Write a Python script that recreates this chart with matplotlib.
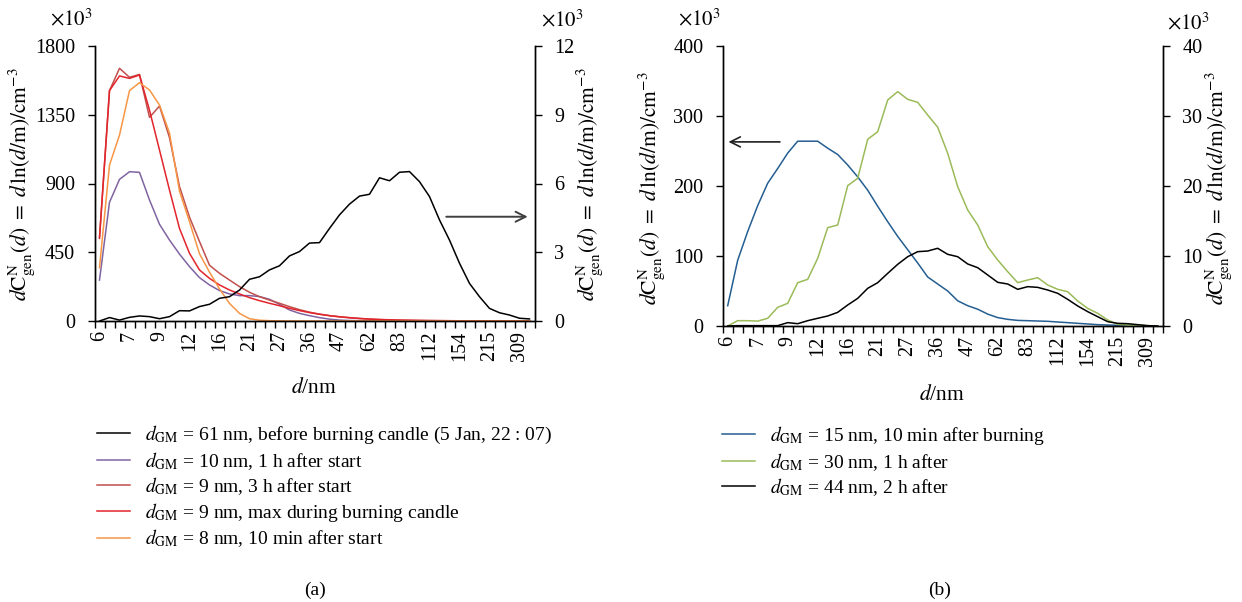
import numpy as np
import matplotlib
matplotlib.use("Agg")
import matplotlib.pyplot as plt

plt.rcParams["font.family"] = ["Liberation Serif", "DejaVu Serif"]
plt.rcParams["mathtext.fontset"] = "stix"

# ── SMPS size bins (nm) ──────────────────────────────────────────────────
diameters = [6.0, 6.5, 6.9, 7.4, 8.1, 8.8, 9.4, 10.2, 11.1, 12.0, 13.1, 14.3,
             15.7, 17.0, 18.6, 20.6, 22.5, 24.6, 26.9, 29.4, 32.2, 35.9, 39.2,
             43.0, 47.1, 51.6, 56.5, 61.9, 68.2, 75.0, 82.8, 91.3, 101.0,
             111.7, 124.0, 138.0, 153.6, 171.0, 191.0, 214.6, 241.0, 272.0,
             309.4, 350.0]

# ── (a) candle burning, x10^3 per cm^3 ──────────────────────────────────
before_candle = [0.0, 0.15, 0.04, 0.16, 0.22, 0.19, 0.10, 0.19, 0.45, 0.44,
                 0.63, 0.73, 0.99, 1.06, 1.35, 1.82, 1.93, 2.23, 2.41, 2.84,
                 3.03, 3.40, 3.42, 4.04, 4.63, 5.10, 5.45, 5.53, 6.25, 6.12,
                 6.49, 6.52, 6.08, 5.43, 4.41, 3.53, 2.52, 1.64, 1.06, 0.55,
                 0.36, 0.26, 0.12, 0.09]
after_1h = [268, 777, 927, 977, 973, 792, 633, 530, 438, 356, 284, 236, 199,
            177, 166, 166, 160, 142, 109, 72, 50, 35, 22, 12, 6, 3, 2, 1, 1,
            0.5, 0.5, 0.3, 0.2, 0.1, 0, 0, 0, 0, 0, 0, 0, 0, 0, 0]
after_3h = [550, 1508, 1654, 1595, 1614, 1333, 1407, 1200, 880, 680, 520, 365,
            312, 268, 225, 188, 159, 137, 116, 94, 74, 58, 45, 35, 27, 21, 16,
            12, 9, 7, 5, 4, 3, 2.5, 2, 1.5, 1.2, 1, 0.8, 0.6, 0.5, 0.4, 0.3,
            0.2]
max_burning = [541, 1508, 1604, 1588, 1610, 1380, 1119, 857, 606, 443, 334,
               279, 236, 203, 177, 153, 133, 116, 100, 83, 68, 55, 44, 35, 28,
               22, 17, 13, 10, 8, 6, 5, 4, 3, 2.5, 2, 1.5, 1.2, 1, 0.8, 0.6,
               0.5, 0.4, 0.3]
after_10min = [349, 1021, 1217, 1508, 1560, 1512, 1414, 1230, 850, 650, 440,
               320, 210, 115, 50, 15, 5, 2, 1, 0.5, 0, 0, 0, 0, 0, 0, 0, 0, 0,
               0, 0, 0, 0, 0, 0, 0, 0, 0, 0, 0, 0, 0, 0, 0]

# ── (b) after burning, x10^3 per cm^3 ───────────────────────────────────
b_10min = [29, 94, 135, 172, 204, 225, 247, 264, 264, 264, 254, 245, 230, 213,
           194, 171, 149, 128, 109, 90, 70, 60, 50, 36, 29, 24, 17, 12, 9.5, 8,
           7.6, 7.1, 6.7, 5.7, 4.8, 3.8, 2.9, 1.9, 1.4, 1.0, 0.5, 0.3, 0.2, 0.1]
b_1h = [0, 0.76, 0.76, 0.7, 1.1, 2.67, 3.24, 6.19, 6.67, 9.67, 14.05, 14.43,
        20.05, 21.1, 26.67, 27.76, 32.29, 33.48, 32.38, 31.95, 30.14, 28.4,
        24.67, 19.9, 16.57, 14.43, 11.33, 9.43, 7.76, 6.19, 6.57, 6.9, 5.86,
        5.24, 4.9, 3.57, 2.52, 1.81, 0.86, 0.24, 0.14, 0.14, 0.05, 0]
b_2h = [0, 0.05, 0.05, 0.05, 0.05, 0.05, 0.48, 0.33, 0.76, 1.1, 1.43, 1.95,
        3.0, 3.95, 5.38, 6.19, 7.52, 8.81, 9.9, 10.62, 10.71, 11.1, 10.24, 9.9,
        8.86, 8.33, 7.29, 6.24, 6.0, 5.24, 5.62, 5.52, 5.14, 4.67, 3.81, 2.86,
        2.05, 1.33, 0.62, 0.38, 0.33, 0.19, 0.05, 0]

labels_a = [
    r"$d_{\mathrm{GM}}$ = 61 nm, before burning candle (5 Jan, 22 : 07)",
    r"$d_{\mathrm{GM}}$ = 10 nm, 1 h after start",
    r"$d_{\mathrm{GM}}$ = 9 nm, 3 h after start",
    r"$d_{\mathrm{GM}}$ = 9 nm, max during burning candle",
    r"$d_{\mathrm{GM}}$ = 8 nm, 10 min after start",
]
labels_b = [
    r"$d_{\mathrm{GM}}$ = 15 nm, 10 min after burning",
    r"$d_{\mathrm{GM}}$ = 30 nm, 1 h after",
    r"$d_{\mathrm{GM}}$ = 44 nm, 2 h after",
]

BLACK = "#000000"
PURPLE = "#8064A2"
DARKRED = "#C0504D"
RED = "#E3242B"
ORANGE = "#F79646"
BLUE = "#255E91"
GREEN = "#9BBB59"

YLABEL = r"$d\mathrm{C}^{\mathrm{N}}_{\mathrm{gen}}(d)\ =\ d\,\mathrm{ln}(d/\mathrm{m})/\mathrm{cm}^{-3}$"
FS = 14        # legend / panel tags
TFS = 14.5     # tick labels
LW = 1.1

W, H = 1242, 602
fig = plt.figure(figsize=(W / 100, H / 100), dpi=100)


def px_axes(x0, y0, x1, y1):
    return fig.add_axes([x0 / W, 1 - y1 / H, (x1 - x0) / W, (y1 - y0) / H])


def style_axes(ax, twin, ylim_l, yticks_l, ylim_r, yticks_r):
    n = len(diameters)
    x = np.arange(n)
    ax.set_xlim(-0.5, n - 0.5)
    ax.set_ylim(*ylim_l)
    ax.set_yticks(yticks_l)
    twin.set_ylim(*ylim_r)
    twin.set_yticks(yticks_r)
    ax.set_xticks(x[::3])
    ax.set_xticklabels([f"{d:.0f}" for d in diameters[::3]], rotation=90)
    ax.set_xticks(np.arange(-0.5, n, 1), minor=True)
    ax.tick_params(axis="x", which="major", length=0, pad=7, labelsize=TFS)
    ax.tick_params(axis="x", which="minor", length=5, width=1.0,
                   direction="out")
    ax.tick_params(axis="y", length=5, width=1.0, labelsize=TFS, pad=9)
    twin.tick_params(axis="y", length=5, width=1.0, labelsize=TFS, pad=9)
    for a in (ax, twin):
        a.spines["top"].set_visible(False)
        for s in ("left", "right", "bottom"):
            a.spines[s].set_linewidth(1.0)


# ═══ panel (a) ═══════════════════════════════════════════════════════════
ax_a = px_axes(94.5, 46, 534.5, 321)
tw_a = ax_a.twinx()
xa = np.arange(len(diameters))
h_black, = tw_a.plot(xa, before_candle, color=BLACK, lw=LW)
h_purple, = ax_a.plot(xa, after_1h, color=PURPLE, lw=LW)
h_dred, = ax_a.plot(xa, after_3h, color=DARKRED, lw=LW)
h_red, = ax_a.plot(xa, max_burning, color=RED, lw=LW)
h_orange, = ax_a.plot(xa, after_10min, color=ORANGE, lw=LW)
style_axes(ax_a, tw_a, (0, 1800), [0, 450, 900, 1350, 1800],
           (0, 12), [0, 3, 6, 9, 12])
tw_a.annotate("", xy=(43.1, 4.55), xytext=(34.4, 4.55),
              arrowprops=dict(arrowstyle="->", color="#404040", lw=1.4,
                              mutation_scale=18))

fig.legend([h_black, h_purple, h_dred, h_red, h_orange], labels_a,
           loc="upper left", bbox_to_anchor=(97 / W, 1 - 424 / H),
           frameon=False, fontsize=FS, borderpad=0, borderaxespad=0,
           handlelength=1.7, handletextpad=0.75, labelspacing=0.19)

# ═══ panel (b) ═══════════════════════════════════════════════════════════
ax_b = px_axes(722.7, 46, 1162.7, 326)
tw_b = ax_b.twinx()
h_blue, = ax_b.plot(xa, b_10min, color=BLUE, lw=LW)
h_green, = tw_b.plot(xa, b_1h, color=GREEN, lw=LW)
h_black_b, = tw_b.plot(xa, b_2h, color=BLACK, lw=LW)
style_axes(ax_b, tw_b, (0, 400), [0, 100, 200, 300, 400],
           (0, 40), [0, 10, 20, 30, 40])
ax_b.annotate("", xy=(-0.2, 263), xytext=(5.5, 263),
              arrowprops=dict(arrowstyle="->", color="#202020", lw=1.2,
                              mutation_scale=18))

fig.legend([h_blue, h_green, h_black_b], labels_b,
           loc="upper left", bbox_to_anchor=(722 / W, 1 - 424 / H),
           frameon=False, fontsize=FS, borderpad=0, borderaxespad=0,
           handlelength=1.7, handletextpad=0.75, labelspacing=0.19)

# ── axis titles, multipliers, panel tags ────────────────────────────────
for xc, yc in ((22, 184), (590, 184), (652, 188), (1219, 188)):
    fig.text(xc / W, 1 - yc / H, YLABEL, rotation=90, ha="center",
             va="center", fontsize=TFS + 1)

for xr, yc, ha in ((93, 20, "right"), (541, 21, "left"),
                   (721, 20, "right"), (1167, 24, "left")):
    fig.text(xr / W, 1 - yc / H, r"$\times10^3$", ha=ha, va="center",
             fontsize=TFS + 0.5)

fig.text(314 / W, 1 - 388 / H, r"$d$/nm", ha="center", va="center",
         fontsize=TFS + 1)
fig.text(942 / W, 1 - 395 / H, r"$d$/nm", ha="center", va="center",
         fontsize=TFS + 1)

fig.text(315 / W, 1 - 590 / H, "(a)", ha="center", va="center", fontsize=FS)
fig.text(940 / W, 1 - 590 / H, "(b)", ha="center", va="center", fontsize=FS)

fig.savefig("out.png", dpi=100)
